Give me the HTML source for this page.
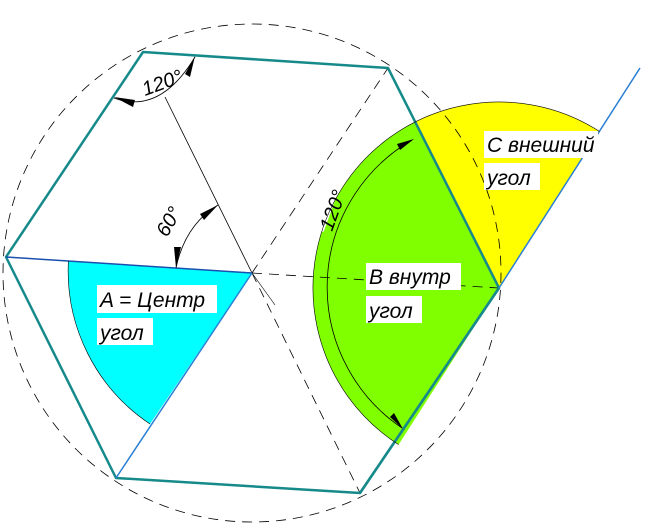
<!DOCTYPE html>
<html><head><meta charset="utf-8"><style>
html,body{margin:0;padding:0;background:#fff;width:653px;height:531px;overflow:hidden}
svg{display:block}
text{font-family:"Liberation Sans","DejaVu Sans",sans-serif;font-style:italic;fill:#000}
</style></head><body>
<svg width="653" height="531" viewBox="0 0 653 531" xmlns="http://www.w3.org/2000/svg">
<!-- sectors -->
<path d="M252,273 L68.4,261 A184,184 0 0 0 150,424 Z" fill="#00ffff"/>
<path d="M499,288 L415,122 A186,186 0 0 0 398.6,444.6 Z" fill="#80ff00"/>
<path d="M499,288 L415,122 A186,186 0 0 1 599.4,131.4 Z" fill="#ffff00"/>
<!-- notch in green for label -->
<rect x="312" y="150" width="26" height="80" fill="#fff" transform="rotate(20 325 190)"/>
<!-- big dashed circle -->
<circle cx="252" cy="273" r="249" fill="none" stroke="#000" stroke-width="0.8" stroke-dasharray="10,7"/>
<!-- dashed radial lines -->
<g stroke="#000" stroke-width="0.8" stroke-dasharray="10,7" fill="none">
<line x1="252" y1="273" x2="388" y2="68"/>
<line x1="252" y1="273" x2="499" y2="288"/>
<line x1="252" y1="273" x2="360" y2="493"/>
</g>
<!-- thin solid lines -->
<line x1="165" y1="97" x2="252" y2="273" stroke="#000" stroke-width="0.8"/>
<line x1="252" y1="273" x2="275" y2="305" stroke="#000" stroke-width="0.6"/>
<!-- hexagon -->
<polygon points="143,52 388,68 499,288 360,493 116,478 6,257" fill="none" stroke="#168a8a" stroke-width="2.5" stroke-linejoin="round"/>
<!-- blue lines -->
<line x1="6" y1="257" x2="252" y2="273" stroke="#1a4fb0" stroke-width="1.5"/>
<line x1="252" y1="273" x2="116" y2="478" stroke="#2a7fd4" stroke-width="1.5"/>
<line x1="499" y1="288" x2="640" y2="68" stroke="#2a7fd4" stroke-width="1.5"/>
<line x1="499" y1="288" x2="360" y2="493" stroke="#168a8a" stroke-width="2.5"/>
<!-- arc outlines -->
<path d="M68.4,261 A184,184 0 0 0 150,424" fill="none" stroke="#000" stroke-width="0.6"/>
<path d="M398.6,444.6 A186,186 0 0 1 599.4,131.4" fill="none" stroke="#000" stroke-width="0.6"/>
<!-- green dim arc -->
<path d="M412,140 A170,170 0 0 0 402,428" fill="none" stroke="#000" stroke-width="0.8"/>
<polygon points="414,139 400,150 397,144" fill="#000"/>
<polygon points="403,429 390,417 394,413" fill="#000"/>
<!-- top 120 dim arc -->
<path d="M114,98 Q160,115 195,57" fill="none" stroke="#000" stroke-width="0.8"/>
<polygon points="114,97 135,100 133,107" fill="#000"/>
<polygon points="195,56 190,77 185,74" fill="#000"/>
<!-- 60 dim arc -->
<path d="M218,205 Q185,225 176,268" fill="none" stroke="#000" stroke-width="0.8"/>
<polygon points="218,205 204,220 200,214" fill="#000"/>
<polygon points="176,268 174,247 181,247" fill="#000"/>
<!-- labels -->
<text x="0" y="0" font-size="20" transform="translate(145,96) rotate(-20)">120°</text>
<text x="0" y="0" font-size="20" transform="translate(167,238) rotate(-60)">60°</text>
<text x="0" y="0" font-size="20" transform="translate(332,232) rotate(-70)">120°</text>
<rect x="97" y="285" width="120" height="28" fill="#fff"/>
<rect x="97" y="318" width="56" height="27" fill="#fff"/>
<text x="100" y="307" font-size="21">A = Центр</text>
<text x="100" y="340" font-size="21">угол</text>
<rect x="366" y="263" width="95" height="27" fill="#fff"/>
<rect x="366" y="296" width="56" height="27" fill="#fff"/>
<text x="369" y="284" font-size="21">B внутр</text>
<text x="369" y="318" font-size="21">угол</text>
<rect x="484" y="131" width="114" height="27" fill="#fff"/>
<rect x="484" y="163" width="56" height="27" fill="#fff"/>
<text x="487" y="152" font-size="21">C внешний</text>
<text x="487" y="185" font-size="21">угол</text>
</svg>
</body></html>
